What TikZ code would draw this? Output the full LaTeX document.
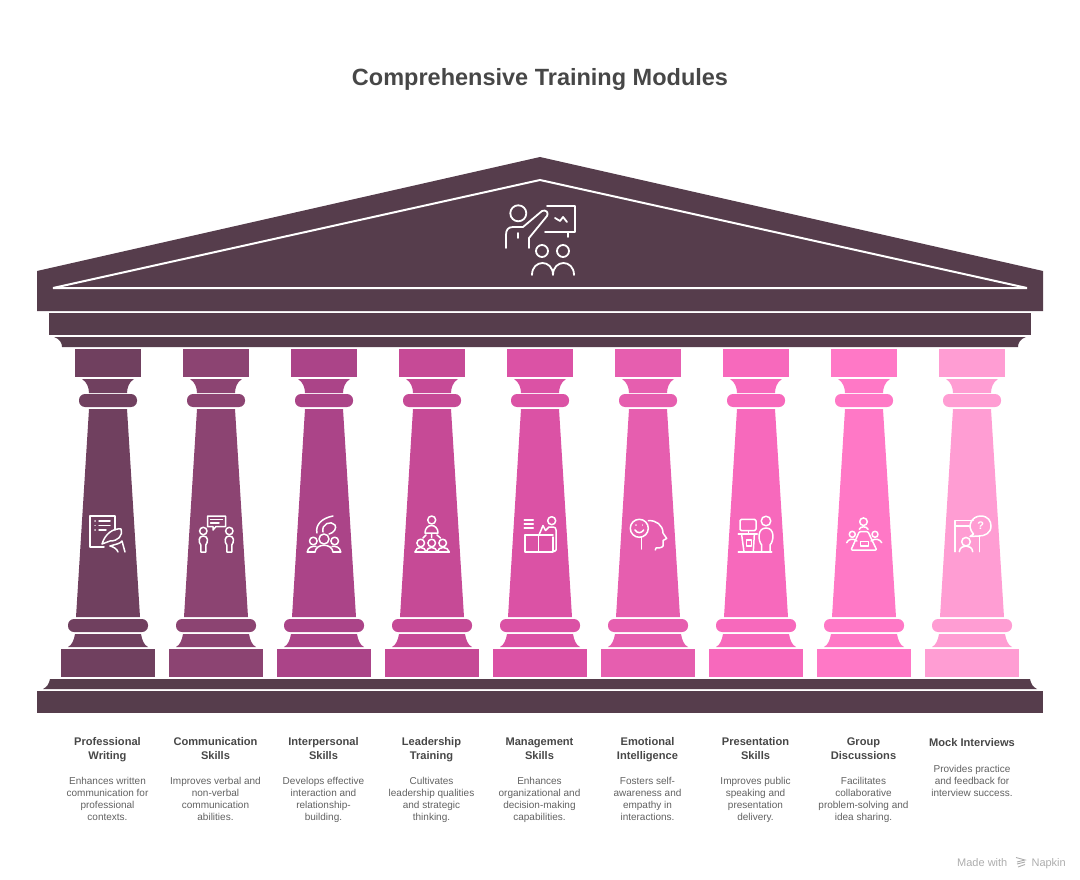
\documentclass[tikz,border=0pt]{standalone}
\usepackage{fontspec}
\setmainfont{Liberation Sans}
\usepackage{xcolor}
\usetikzlibrary{positioning,calc}
\definecolor{roofcol}{HTML}{563D4C}
\definecolor{colA}{HTML}{70405F}
\definecolor{colB}{HTML}{8C4472}
\definecolor{colC}{HTML}{AB4488}
\definecolor{colD}{HTML}{C64A96}
\definecolor{colE}{HTML}{DB52A5}
\definecolor{colF}{HTML}{E65EAF}
\definecolor{colG}{HTML}{F769BC}
\definecolor{colH}{HTML}{FF78C6}
\definecolor{colI}{HTML}{FF9DD3}
\tikzset{
    icon/.style={draw=white, line width=1.5pt, line cap=round, line join=round},
    thead/.style={font=\fontsize{11.1}{14}\selectfont\bfseries, text=black!72, align=center, inner sep=0pt, anchor=north},
    tbody/.style={font=\fontsize{10}{12}\selectfont, text=black!62, align=center, inner sep=0pt, anchor=north},
    foot/.style={font=\fontsize{11}{12}\selectfont, text=black!32, inner sep=0pt}
}

\begin{document}
\begin{tikzpicture}[x=1pt, y=-1pt]
    \useasboundingbox (0,0) rectangle (1080,880);

    % Title
    \node[font=\fontsize{23.5}{28}\selectfont\bfseries, text=black!72, inner sep=0pt] (title) at (540,79.5) {Comprehensive Training Modules};

    % Roof
    \fill[roofcol] (37,271) -- (540,157) -- (1043,271) -- (1043,311) -- (37,311) -- cycle;
    \draw[white, line width=2pt, miter limit=3] (53,288) -- (540,180) -- (1027,288) -- cycle;
    \fill[roofcol] (49,313) rectangle (1031,335);
    \fill[roofcol] (54,337) -- (1026,337) .. controls (1020,339) and (1018,343) .. (1018,347) -- (62,347) .. controls (62,343) and (60,339) .. (54,337) -- cycle;

    % Floor
    \fill[roofcol] (50,679) -- (1030,679) .. controls (1031,684) and (1033,687) .. (1037,689) -- (43,689) .. controls (47,687) and (49,684) .. (50,679) -- cycle;
    \fill[roofcol] (37,691) rectangle (1043,713);

    % Pillars
    \foreach \x/\col in {108/colA, 216/colB, 324/colC, 432/colD, 540/colE, 648/colF, 756/colG, 864/colH, 972/colI} {
        \fill[\col] (\x-33,349) rectangle (\x+33,377);
        \fill[\col] (\x-26,379) -- (\x+26,379) .. controls (\x+21,382) and (\x+19,388) .. (\x+19,393) -- (\x-19,393) .. controls (\x-19,388) and (\x-21,382) .. (\x-26,379) -- cycle;
        \fill[\col, rounded corners=6pt] (\x-29,394) rectangle (\x+29,407);
        \fill[\col] (\x-19,409) -- (\x+19,409) -- (\x+32,617) -- (\x-32,617) -- cycle;
        \fill[\col, rounded corners=6pt] (\x-40,619) rectangle (\x+40,632);
        \fill[\col] (\x-33,634) -- (\x+33,634) .. controls (\x+34,640) and (\x+36,645) .. (\x+40,647) -- (\x-40,647) .. controls (\x-36,645) and (\x-34,640) .. (\x-33,634) -- cycle;
        \fill[\col] (\x-47,649) rectangle (\x+47,677);
    }

    % Teacher icon
    \draw[icon, line width=1.8pt] (518.3,213.3) circle (8);
    \draw[icon, line width=1.8pt] (506,248) -- (506,235) .. controls (506,230) and (508,227) .. (513,227) -- (523,227) -- (542,211) .. controls (546,209) and (549,213) .. (547,216) -- (529,238) -- (529,248);
    \draw[icon, line width=1.8pt] (518,233) -- (518,238);
    \draw[icon, line width=1.8pt] (547,206) -- (575,206) -- (575,232) -- (545,232);
    \draw[icon, line width=1.8pt] (568,232) -- (568,237);
    \draw[icon, line width=1.8pt] (555,218) -- (560,221) -- (563,217) -- (567,222);
    \draw[icon, line width=1.8pt] (542,251) circle (6) (563,251) circle (6);
    \draw[icon, line width=1.8pt] (532,275) .. controls (532,259) and (553,259) .. (553,275) .. controls (553,259) and (574,259) .. (574,275);

    % Writing icon
    \draw[icon] (104,547) -- (90,547) -- (90,516) -- (115,516) -- (115,530);
    \draw[icon] (95,521) -- (95.1,521) (99,521) -- (110,521);
    \draw[icon] (95,525.5) -- (95.1,525.5) (99,525.5) -- (110,525.5);
    \draw[icon] (95,530) -- (95.1,530) (99,530) -- (106,530);
    \draw[icon] (102,544) .. controls (105,534) and (113,528) .. (121,529) .. controls (123,536) and (118,541) .. (110,541) -- (102,544);
    \draw[icon] (110,546) .. controls (116,544) and (120,544) .. (122,541) -- (125,552);
    \draw[icon] (110,546) .. controls (114,547) and (117,549) .. (118,552);

    % Conversation icon
    \draw[icon] (207.5,516) -- (225.5,516) -- (225.5,526.5) -- (216,526.5) -- (213,530) -- (213,526.5) -- (207.5,526.5) -- cycle;
    \draw[icon] (210.5,519.5) -- (222.5,519.5) (210.5,523) -- (219,523);
    \foreach \p in {203.3, 229.3} {
        \draw[icon] (\p,531) circle (3.7);
        \draw[icon] (\p-2.5,552) -- (\p-2.5,545) .. controls (\p-5,542) and (\p-5,536) .. (\p,536) .. controls (\p+5,536) and (\p+5,542) .. (\p+2.5,545) -- (\p+2.5,552) -- cycle;
    }

    % Relationship icon
    \draw[icon] (317,533) .. controls (315,525) and (322,518) .. (333,516);
    \draw[icon] (323,532) .. controls (321,524) and (331,520) .. (335,525) .. controls (337,528) and (334,533) .. (329,534);
    \draw[icon] (324,539) circle (5) (313.3,541) circle (3.8) (334.7,541) circle (3.8);
    \draw[icon] (315,552) .. controls (316,543) and (332,543) .. (333,552);
    \draw[icon] (307.3,552) .. controls (308,547) and (312,546) .. (316,546.5);
    \draw[icon] (340.7,552) .. controls (340,547) and (336,546) .. (332,546.5);
    \draw[icon] (307.3,552) -- (315,552) (333,552) -- (340.7,552);

    % Team lead icon
    \draw[icon] (431.7,520) circle (4);
    \draw[icon] (425,533) .. controls (425,523) and (438,523) .. (438,533) -- cycle;
    \draw[icon] (431.7,534) -- (431.7,537.5) (426,535) -- (423,538) (437,535) -- (440.5,538);
    \draw[icon] (420.7,543) circle (3.8) (431.7,543) circle (3.8) (442.7,543) circle (3.8);
    \draw[icon] (415,552) .. controls (416,546) and (425,546) .. (426.3,552) .. controls (427,546) and (436,546) .. (437.3,552) .. controls (438,546) and (448,546) .. (449.3,552);
    \draw[icon] (415,552) -- (449.3,552);

    % Desk icon
    \draw[icon] (524.3,520) -- (533.3,520) (524.3,524) -- (533.3,524) (524.3,528) -- (533.3,528);
    \draw[icon] (538.5,535) -- (525,535) -- (525,552) -- (553,552) -- (553,537) (538.5,535) -- (538.5,552);
    \draw[icon] (551.7,520.7) circle (4);
    \draw[icon] (539,535) -- (543,525.5) -- (545.5,530.5) -- (549,527) -- (553,527) .. controls (555,527) and (556,528) .. (556,530) -- (556,550) .. controls (556,552) and (553,552) .. (553,550);
    \draw[icon] (539,535) -- (553,535);

    % Emotion icon
    \draw[icon] (639.3,528.3) circle (9);
    \draw[icon] (636,525) -- (636,525.1) (642.7,525) -- (642.7,525.1);
    \draw[icon] (635,530) .. controls (637,533.5) and (641.5,533.5) .. (643.7,530);
    \draw[icon] (641.7,537.5) -- (641.7,549);
    \draw[icon] (648.3,520.7) .. controls (656,520) and (663,525) .. (663,533) -- (666.7,538.5) -- (663,540.5) -- (663,546) .. controls (662,548) and (658,548) .. (656,548) -- (655.3,550);

    % Podium icon
    \draw[icon, rounded corners=1.5pt] (740,519.3) rectangle (756,530.7);
    \draw[icon] (748.3,531) -- (748.3,534) (738.3,534) -- (757.3,534);
    \draw[icon] (741.7,535) -- (744,552) (754.3,535) -- (753.3,552);
    \draw[icon] (746.7,540) rectangle (751.7,546);
    \draw[icon] (738.3,552) -- (771.7,552);
    \draw[icon] (766,521) circle (4.8);
    \draw[icon] (761.7,552) -- (761.7,545) .. controls (758,541) and (757,528) .. (766,528) .. controls (775,528) and (774,541) .. (770,545) -- (770,552);

    % Round table icon
    \draw[icon] (863.5,521.7) circle (3.8);
    \draw[icon] (859.3,529.3) .. controls (860,526) and (867,526) .. (868,529.3);
    \draw[icon, rounded corners=1pt] (859.3,531.7) -- (868,531.7) -- (876.7,550) -- (851,550) -- cycle;
    \draw[icon] (860.7,541.7) rectangle (868.3,546);
    \draw[icon] (852.3,534.3) circle (3) (875,534.3) circle (3);
    \draw[icon] (846.7,542.7) .. controls (848,539) and (853,538) .. (857,541);
    \draw[icon] (881.7,542.7) .. controls (880,539) and (875,538) .. (871,541);

    % Interview icon
    \draw[icon] (955,551.7) -- (955,520.7) -- (973.3,520.7);
    \draw[icon] (955,526) -- (969.3,526);
    \draw[icon] (979.3,536) -- (979.3,551.7);
    \draw[icon] (973.5,534) .. controls (966,526) and (972,516) .. (980.7,516) .. controls (988,516) and (991,521) .. (991,526) .. controls (991,533) and (985,536) .. (979,536) -- (970,536.5) -- (973.5,534);
    \node[font=\fontsize{11}{12}\selectfont\bfseries, text=white, inner sep=0pt] (quest) at (980.7,526) {?};
    \draw[icon] (966,541.7) circle (4.3);
    \draw[icon] (959.3,551.7) .. controls (960,544) and (972,544) .. (972.7,551.7);

    % Labels
    \foreach \x/\nm/\hd/\bd in {
        107.5/prof/{Professional\\Writing}/{Enhances written\\communication for\\professional\\contexts.},
        215.5/comm/{Communication\\Skills}/{Improves verbal and\\non-verbal\\communication\\abilities.},
        323.5/inter/{Interpersonal\\Skills}/{Develops effective\\interaction and\\relationship-\\building.},
        431.5/lead/{Leadership\\Training}/{Cultivates\\leadership qualities\\and strategic\\thinking.},
        539.5/mgmt/{Management\\Skills}/{Enhances\\organizational and\\decision-making\\capabilities.},
        647.5/emot/{Emotional\\Intelligence}/{Fosters self-\\awareness and\\empathy in\\interactions.},
        755.5/pres/{Presentation\\Skills}/{Improves public\\speaking and\\presentation\\delivery.},
        863.5/group/{Group\\Discussions}/{Facilitates\\collaborative\\problem-solving and\\idea sharing.}} {
        \node[thead] (head\nm) at (\x,737.5) {\hd};
        \node[tbody] (body\nm) at (\x,777.5) {\bd};
    }
    \node[thead] (headmock) at (972,738.5) {Mock Interviews};
    \node[tbody] (bodymock) at (972,765.5) {Provides practice\\and feedback for\\interview success.};

    % Footer
    \node[foot, anchor=base east] (napkin) at (1066,866) {Napkin};
    \node[foot, anchor=base west] (made) at (957,866) {Made with};
    \draw[black!32, line width=0.9pt] (1016,857.5) -- (1025,860) -- (1017,862) (1017,864) -- (1025,862) (1018,867) -- (1025,864.5);
\end{tikzpicture}
\end{document}
